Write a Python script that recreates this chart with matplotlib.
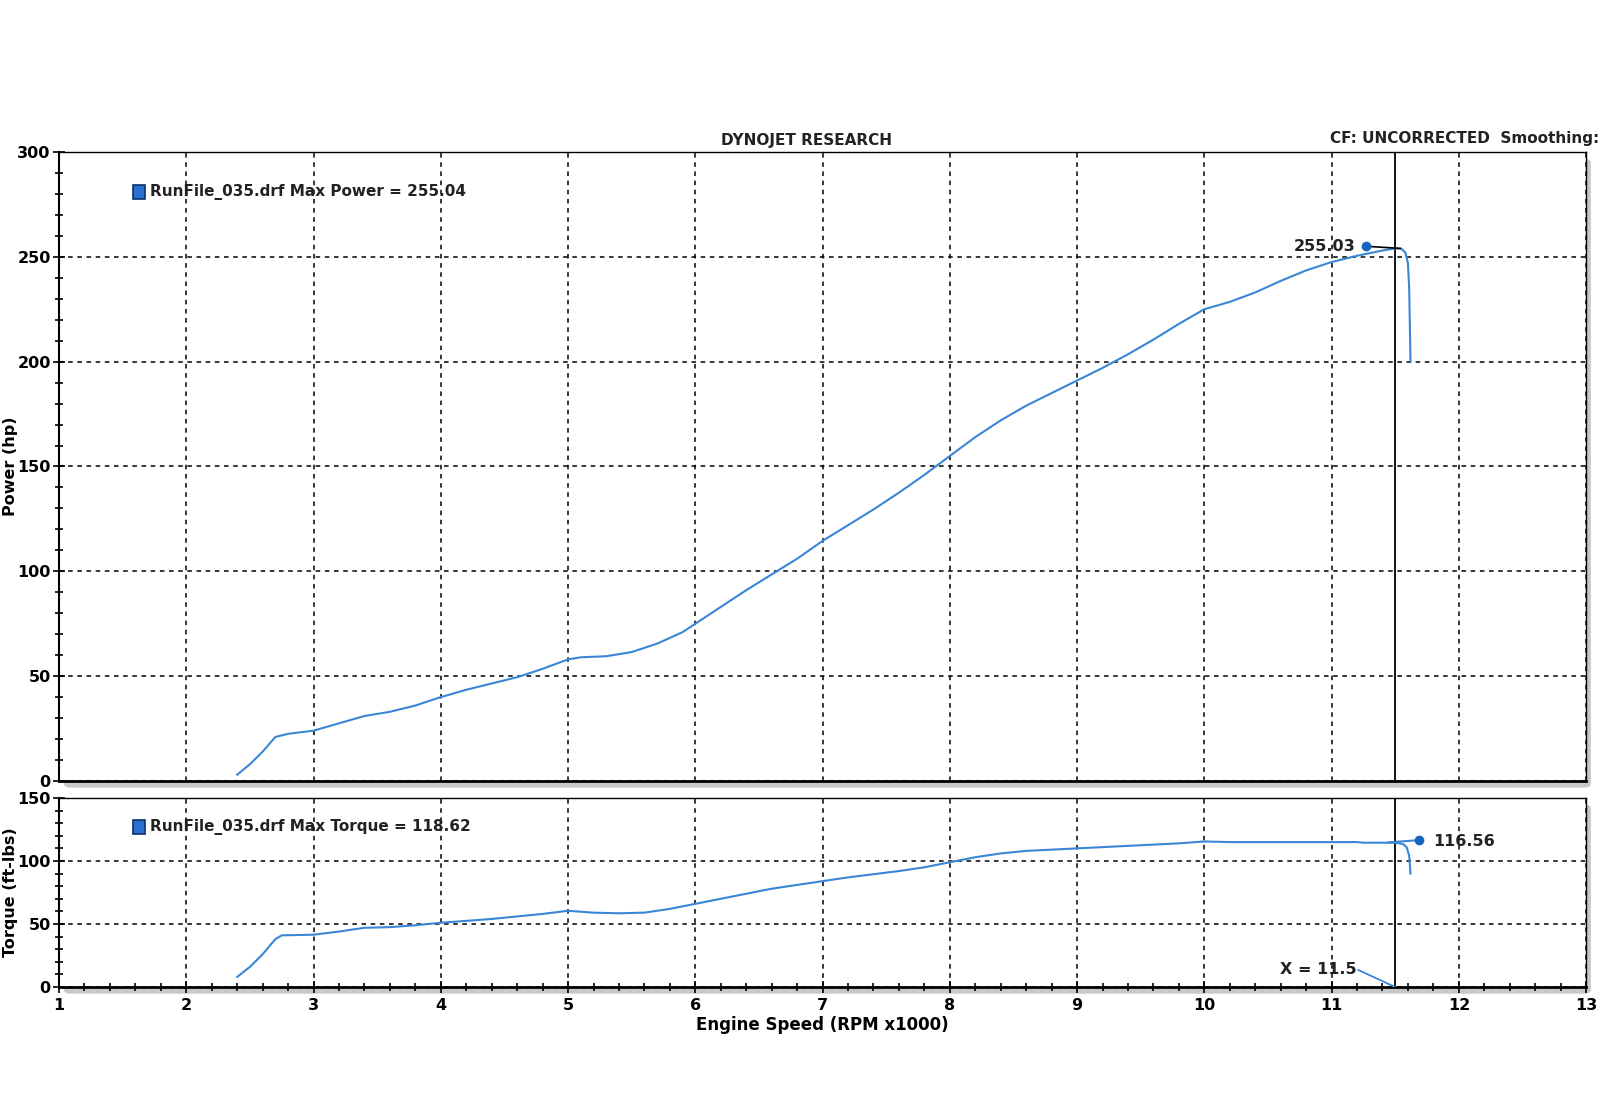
import numpy as np
import matplotlib.pyplot as plt
from matplotlib.patches import FancyBboxPatch, Rectangle

# Power run (hp) vs engine speed (RPM x1000)
rpm_power = [2.4, 2.5, 2.6, 2.7, 2.8, 3.0, 3.2, 3.4, 3.6, 3.8, 4.0, 4.2, 4.4, 4.6, 4.8,
             5.0, 5.1, 5.3, 5.5, 5.7, 5.9, 6.0, 6.2, 6.4, 6.6, 6.8, 7.0, 7.2, 7.4, 7.6,
             7.8, 8.0, 8.2, 8.4, 8.6, 8.8, 9.0, 9.2, 9.4, 9.6, 9.8, 10.0, 10.2, 10.4,
             10.6, 10.8, 11.0, 11.2, 11.4, 11.5, 11.55, 11.58, 11.6, 11.61, 11.62]
power = [3, 8, 14, 21, 22.5, 24, 27.5, 31, 33, 36, 40, 43.5, 46.5, 49.5, 53.5,
         58, 59, 59.5, 61.5, 65.5, 71, 75, 83, 91, 98.5, 106, 114.5, 122, 129.5, 137.5,
         146, 155, 164, 172, 179, 185, 191, 197, 203.5, 210.5, 218, 225, 228.5, 233,
         238.5, 243.5, 247.5, 250.5, 253, 254, 253.8, 252, 247, 235, 200]

# Torque run (ft-lbs)
rpm_torque = [2.4, 2.5, 2.6, 2.7, 2.75, 3.0, 3.2, 3.4, 3.6, 3.8, 4.0, 4.2, 4.4, 4.6, 4.8,
              5.0, 5.2, 5.4, 5.6, 5.8, 6.0, 6.2, 6.4, 6.6, 6.8, 7.0, 7.2, 7.4, 7.6, 7.8,
              8.0, 8.2, 8.4, 8.6, 8.8, 9.0, 9.2, 9.4, 9.6, 9.8, 10.0, 10.2, 10.6, 11.0,
              11.2, 11.25, 11.5, 11.56, 11.59, 11.61, 11.62]
torque = [8, 16, 26, 38, 41, 41.5, 44, 47, 47.5, 49, 51, 52.5, 54, 56, 58,
          60.5, 59, 58.5, 59, 62, 66, 70, 74, 78, 81, 84, 87, 89.5, 92, 95,
          99, 103, 106, 108, 109, 110, 111, 112, 113, 114, 115.5, 115, 115, 115,
          115, 114.5, 114.5, 113.5, 111, 104, 90]

peak_power = (11.27, 255.03)
peak_torque = (11.69, 116.56)
cursor_x = 11.5

blue = '#3a86d6'
plt.rcParams['font.family'] = ['DejaVu Sans']
plt.rcParams['font.weight'] = 'bold'

fig = plt.figure(figsize=(16, 11.1), dpi=100)
ax1 = fig.add_axes([0.0369, 0.2964, 0.9544, 0.5667])
ax2 = fig.add_axes([0.0369, 0.1108, 0.9544, 0.1703])

# drop shadows behind both panels
for ax in (ax1, ax2):
    ax.set_zorder(2)
    x0, y0, w, h = ax.get_position().bounds
    fig.patches.append(FancyBboxPatch((x0 + 0.003, y0 - 0.006), w, h,
                                      boxstyle='round,pad=0,rounding_size=0.004',
                                      transform=fig.transFigure, facecolor='#c8c8c8',
                                      edgecolor='none', zorder=0))

for ax, ymax, major in ((ax1, 300, 50), (ax2, 150, 50)):
    ax.set_xlim(1, 13)
    ax.set_ylim(0, ymax)
    ax.set_facecolor('white')
    ax.set_xticks(range(1, 14))
    ax.set_yticks(range(0, ymax + 1, major))
    ax.set_yticks(np.arange(0, ymax + 1, 10), minor=True)
    ax.grid(True, which='major', color='black', linestyle=(0, (3, 3)), linewidth=1.1)
    ax.tick_params(axis='y', which='both', direction='inout', length=8, width=1.2,
                   labelsize=11.5, pad=2)
    ax.tick_params(axis='y', which='minor', length=6)
    for s in ('top', 'right'):
        ax.spines[s].set_linewidth(1.0)
    ax.spines['left'].set_linewidth(1.5)
    ax.spines['bottom'].set_linewidth(2.0)
    ax.axvline(cursor_x, color='black', linewidth=1.3, zorder=4)

ax1.tick_params(axis='x', which='both', length=0, labelbottom=False)
ax2.set_xticks(np.arange(1, 13.01, 0.2), minor=True)
ax2.tick_params(axis='x', which='both', direction='inout', length=8, width=1.2,
                labelsize=11.5, pad=4)
ax2.tick_params(axis='x', which='minor', length=6)

# power curve
ax1.plot(rpm_power, power, color=blue, linewidth=1.5, zorder=5)
ax1.plot([peak_power[0], 11.54], [peak_power[1], 254], color='black', linewidth=1.2, zorder=5)
ax1.plot(*peak_power, 'o', color='#1565c0', markersize=6, zorder=6)
ax1.text(peak_power[0] - 0.08, peak_power[1], f'{peak_power[1]:.2f}', ha='right', va='center',
         fontsize=11.5, fontweight='bold', color='#222222')

# torque curve
ax2.plot(rpm_torque, torque, color=blue, linewidth=1.5, zorder=5)
ax2.plot([11.45, peak_torque[0]], [114.8, peak_torque[1]], color=blue, linewidth=1.5, zorder=5)
ax2.plot(*peak_torque, 'o', color='#1565c0', markersize=6, zorder=6)
ax2.text(peak_torque[0] + 0.11, peak_torque[1] - 1, f'{peak_torque[1]:.2f}', ha='left', va='center',
         fontsize=11.5, fontweight='bold', color='#222222')
ax2.plot([11.21, cursor_x], [13.5, 0], color=blue, linewidth=1.3, zorder=5)
ax2.text(11.2, 13.5, f'X = {cursor_x}', ha='right', va='center', fontsize=11.5,
         fontweight='bold', color='#222222')

# legends
for ax, ytxt, label in ((ax1, 0.936, 'RunFile_035.drf Max Power = 255.04'),
                        (ax2, 0.847, 'RunFile_035.drf Max Torque = 118.62')):
    hfac = 0.5667 / ax.get_position().height
    ax.add_patch(Rectangle((0.0485, ytxt - 0.011 * hfac), 0.0075, 0.022 * hfac,
                           transform=ax.transAxes, facecolor='#2a6fd0',
                           edgecolor='#0d2f6e', linewidth=1.2, zorder=7))
    ax.text(0.0598, ytxt, label, transform=ax.transAxes, ha='left', va='center',
            fontsize=11, fontweight='bold', color='#222222', zorder=7)

ax1.set_ylabel('Power (hp)', fontsize=11.5, fontweight='bold')
ax2.set_ylabel('Torque (ft-lbs)', fontsize=11.5, fontweight='bold')
ax1.yaxis.set_label_coords(-0.027, 0.5)
ax2.yaxis.set_label_coords(-0.027, 0.5)
ax2.set_xlabel('Engine Speed (RPM x1000)', fontsize=12, fontweight='bold', labelpad=2)

fig.text(0.504, 0.873, 'DYNOJET RESEARCH', ha='center', va='center', fontsize=11,
         fontweight='bold', color='#222222')
fig.text(0.831, 0.875, 'CF: UNCORRECTED  Smoothing: 5', ha='left', va='center',
         fontsize=11, fontweight='bold', color='#222222')

fig.savefig('out.png', dpi=100, facecolor='white')
